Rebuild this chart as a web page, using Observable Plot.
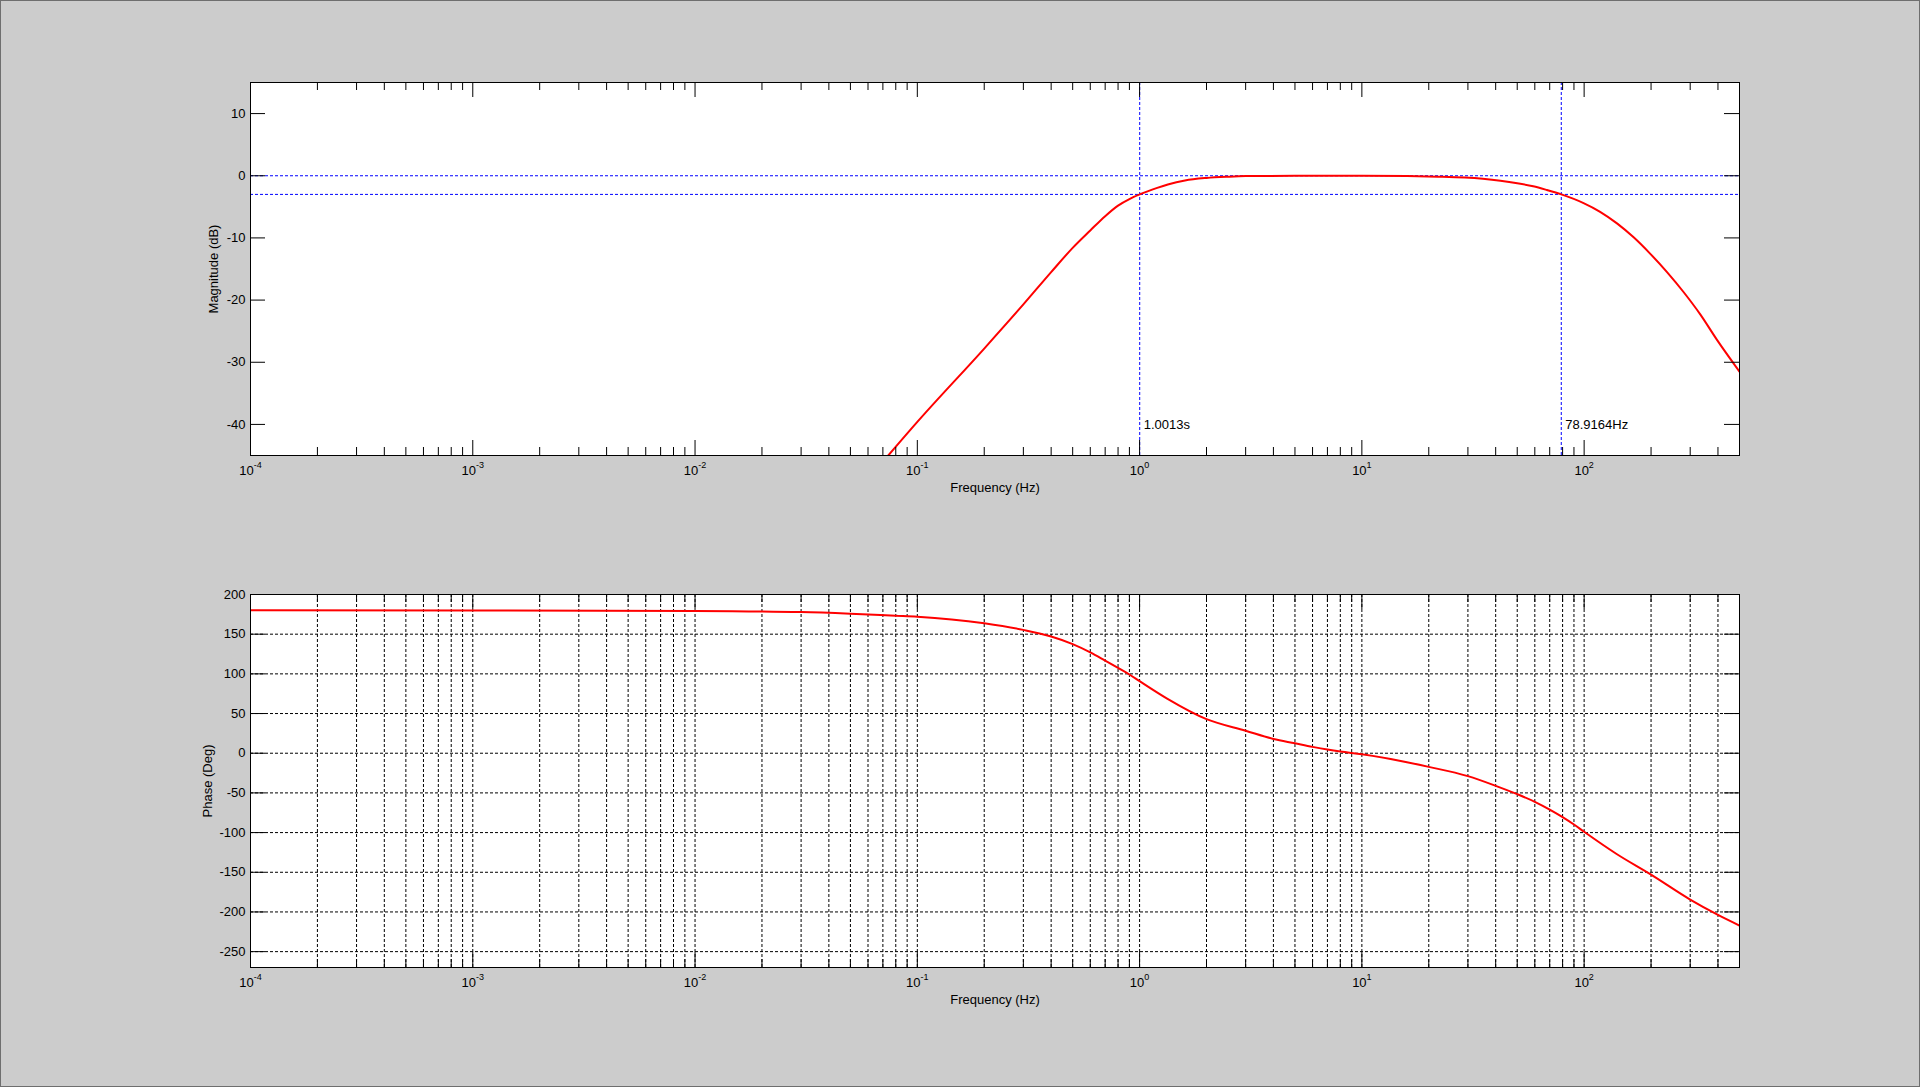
<!DOCTYPE html>
<html>
<head>
<meta charset="utf-8">
<script src="https://cdn.jsdelivr.net/npm/d3@7"></script>
<script src="https://cdn.jsdelivr.net/npm/@observablehq/plot@0.6"></script>
<style>
  html, body { margin: 0; padding: 0; background: #cccccc; overflow: hidden; }
  #chart { position: relative; width: 1920px; height: 1087px; }
  #chart svg { display: block; }
  #edge { position: absolute; left: 0; top: 0; width: 1920px; height: 1087px; box-sizing: border-box; border: 1px solid #6e6e6e; pointer-events: none; }
</style>
</head>
<body>
<div id="chart"><div id="edge"></div></div>
<script>
// decades shown on the x axis (Hz)
const decades = [1e-4, 1e-3, 1e-2, 1e-1, 1, 10, 100]
const magTicks = [-40, -30, -20, -10, 0, 10]
const phaseTicks = [-250, -200, -150, -100, -50, 0, 50, 100, 150, 200]

// magnitude curve
const magFreq = [0.074, 0.1, 0.2, 0.3, 0.4, 0.5, 0.6, 0.7, 0.8, 0.9, 1.0013, 1.2, 1.34, 1.6, 2, 2.5, 3, 5, 10, 16, 22, 29, 35, 42, 50, 59, 68, 78.9164, 99.4, 118, 141, 167, 199, 236, 280, 333, 396, 500]
const magDb = [-45, -39.6, -27.8, -20.7, -15.5, -11.6, -8.8, -6.5, -4.8, -3.75, -3.0, -1.95, -1.4, -0.75, -0.35, -0.15, -0.05, 0, 0, -0.05, -0.15, -0.3, -0.5, -0.8, -1.2, -1.7, -2.3, -3.0, -4.4, -5.8, -7.7, -9.9, -12.6, -15.5, -18.7, -22.3, -26.4, -31.5]

// phase curve
const phaseFreq = [1e-4, 1e-3, 0.01, 0.03, 0.05, 0.08, 0.1, 0.2, 0.3, 0.4, 0.5, 0.6, 0.7, 0.8, 0.9, 1, 1.33, 2, 3, 4, 5, 6, 7, 8, 10, 20, 30, 40, 50, 60, 70, 80, 90, 100, 140, 200, 300, 400, 500]
const phaseDeg = [180, 179.9, 179.2, 177.8, 175.8, 173.3, 172.1, 163.8, 155.4, 147.1, 137.5, 127.1, 116.7, 107.5, 99.2, 90.8, 68.8, 42.9, 28.3, 18, 12.5, 8.0, 4.6, 2.1, -1.3, -17.2, -28.9, -41.1, -51.6, -61.2, -71, -80.5, -89.8, -99, -127, -153, -184.4, -203.7, -217.1]

// cut-off markers
const refFreq = [1.0013, 78.9164]
const refLabels = ['1.0013s', '78.9164Hz']
const refDb = [0, -3]

const mag = magFreq.map((f, i) => ({f, v: magDb[i]}))
const phase = phaseFreq.map((f, i) => ({f, v: phaseDeg[i]}))
const minor = decades.flatMap(d => [2, 3, 4, 5, 6, 7, 8, 9].map(k => k * d)).filter(f => f < 500)

const W = 1920
const left = 250, right = 181
const panelW = W - left - right
const panelH = 373
const font = {fontFamily: 'Liberation Sans, Arial, sans-serif', fontSize: '13px', background: 'transparent', color: 'black'}

function ticks(yTicks) {
  return [
    Plot.ruleX(decades, {insetTop: panelH - 15, stroke: 'black'}),
    Plot.ruleX(decades, {insetBottom: panelH - 15, stroke: 'black'}),
    Plot.ruleX(minor, {insetTop: panelH - 8, stroke: 'black'}),
    Plot.ruleX(minor, {insetBottom: panelH - 8, stroke: 'black'}),
    Plot.ruleY(yTicks, {insetRight: panelW - 15, stroke: 'black'}),
    Plot.ruleY(yTicks, {insetLeft: panelW - 15, stroke: 'black'}),
    Plot.axisX({ticks: decades, tickSize: 0, tickPadding: 10, tickFormat: d => String(Math.round(Math.log10(d))), label: null}),
    Plot.axisY({ticks: yTicks, tickSize: 0, tickPadding: 5, tickFormat: d => String(d), label: null}),
    Plot.text(['Frequency (Hz)'], {text: d => d, frameAnchor: 'bottom', lineAnchor: 'top', dy: 27}),
  ]
}

let magChart = Plot.plot({
  width: W, height: 525,
  marginTop: 82, marginBottom: 70, marginLeft: left, marginRight: right,
  style: font,
  x: {type: 'log', domain: [1e-4, 500]},
  y: {domain: [-45, 15]},
  marks: [
    Plot.frame({fill: 'white', stroke: null}),
    Plot.ruleY(refDb, {stroke: '#0000ff', strokeDasharray: '3,2'}),
    Plot.ruleX(refFreq, {stroke: '#0000ff', strokeDasharray: '3,2'}),
    Plot.line(mag, {x: 'f', y: 'v', stroke: '#ff0000', strokeWidth: 2, curve: 'monotone-x', clip: true}),
    Plot.text(refFreq, {x: d => d, y: -40, text: (d, i) => refLabels[i], textAnchor: 'start', dx: 4}),
    ...ticks(magTicks),
    Plot.text(['Magnitude (dB)'], {text: d => d, frameAnchor: 'left', textAnchor: 'middle', rotate: -90, dx: -37}),
    Plot.frame({stroke: 'black'}),
  ],
})

let phaseChart = Plot.plot({
  width: W, height: 562,
  marginTop: 69, marginBottom: 120, marginLeft: left, marginRight: right,
  style: font,
  x: {type: 'log', domain: [1e-4, 500]},
  y: {domain: [-270, 200]},
  marks: [
    Plot.frame({fill: 'white', stroke: null}),
    Plot.ruleX(decades.concat(minor), {stroke: 'black', strokeDasharray: '3,2'}),
    Plot.ruleY(phaseTicks, {stroke: 'black', strokeDasharray: '3,2'}),
    Plot.line(phase, {x: 'f', y: 'v', stroke: '#ff0000', strokeWidth: 2, curve: 'monotone-x', clip: true}),
    ...ticks(phaseTicks),
    Plot.text(['Phase (Deg)'], {text: d => d, frameAnchor: 'left', textAnchor: 'middle', rotate: -90, dx: -43}),
    Plot.frame({stroke: 'black'}),
  ],
})

// 10 with the exponent raised
for (const svg of [magChart, phaseChart]) {
  d3.select(svg).selectAll('g[aria-label="x-axis tick label"] text').each(function () {
    const e = this.textContent
    const t = d3.select(this)
    t.text('10')
    t.append('tspan').attr('dy', -7).attr('font-size', '9px').text(e)
  })
}

d3.select('#chart').insert(() => magChart, '#edge')
d3.select('#chart').insert(() => phaseChart, '#edge')
</script>
</body>
</html>
